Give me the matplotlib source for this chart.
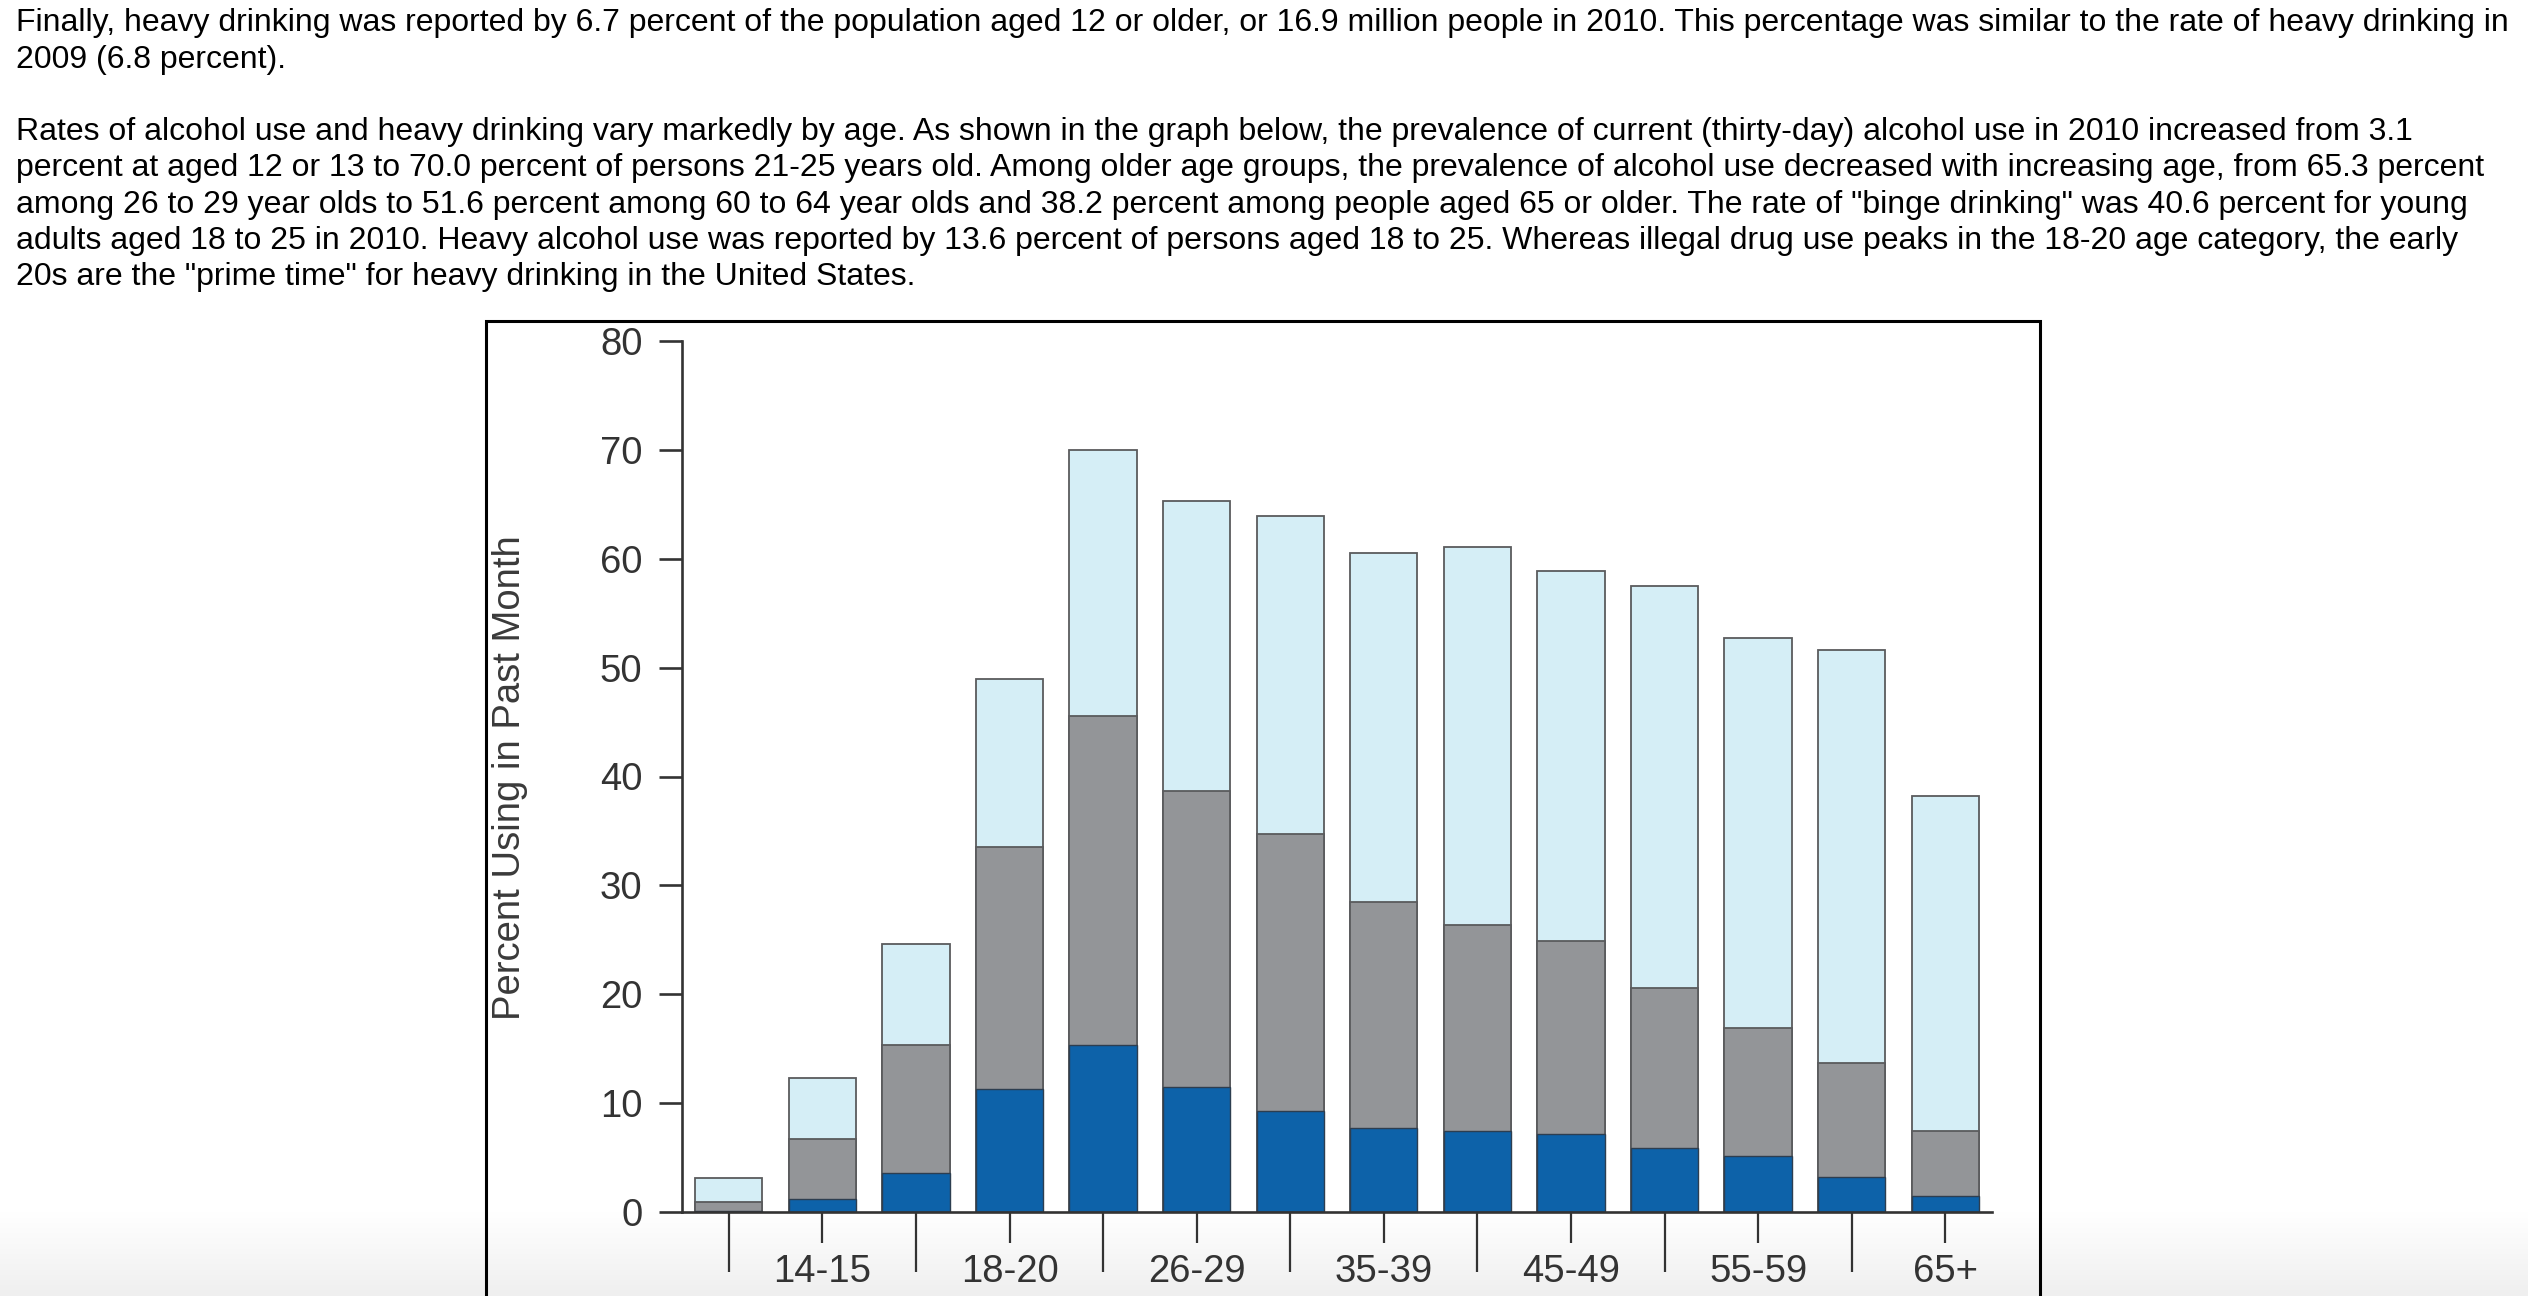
import numpy as np
import matplotlib
matplotlib.use("Agg")
from matplotlib import pyplot as plt
from matplotlib.patches import Rectangle
from matplotlib.colors import LinearSegmentedColormap

plt.rcParams["font.family"] = ["Liberation Sans", "DejaVu Sans"]

# Age groups and past-month use (percent)
ages = ["12-13", "14-15", "16-17", "18-20", "21-25", "26-29", "30-34",
        "35-39", "40-44", "45-49", "50-54", "55-59", "60-64", "65+"]
current_use = [3.1, 12.3, 24.6, 49.0, 70.0, 65.3, 63.9, 60.5, 61.1, 58.9, 57.5, 52.7, 51.6, 38.2]
binge_use = [0.9, 6.7, 15.3, 33.5, 45.6, 38.7, 34.7, 28.5, 26.4, 24.9, 20.6, 16.9, 13.7, 7.4]
heavy_use = [0.1, 1.2, 3.6, 11.3, 15.3, 11.5, 9.3, 7.7, 7.4, 7.2, 5.9, 5.1, 3.2, 1.5]
yticks = [0, 10, 20, 30, 40, 50, 60, 70, 80]

para_lines = [
    "Finally, heavy drinking was reported by 6.7 percent of the population aged 12 or older, or 16.9 million people in 2010. This percentage was similar to the rate of heavy drinking in",
    "2009 (6.8 percent).",
    "Rates of alcohol use and heavy drinking vary markedly by age. As shown in the graph below, the prevalence of current (thirty-day) alcohol use in 2010 increased from 3.1",
    "percent at aged 12 or 13 to 70.0 percent of persons 21-25 years old. Among older age groups, the prevalence of alcohol use decreased with increasing age, from 65.3 percent",
    "among 26 to 29 year olds to 51.6 percent among 60 to 64 year olds and 38.2 percent among people aged 65 or older. The rate of \"binge drinking\" was 40.6 percent for young",
    "adults aged 18 to 25 in 2010. Heavy alcohol use was reported by 13.6 percent of persons aged 18 to 25. Whereas illegal drug use peaks in the 18-20 age category, the early",
    "20s are the \"prime time\" for heavy drinking in the United States.",
]
line_baselines = [31.5, 67.8, 140, 176.3, 212.6, 248.9, 285.2]

W, H = 2528, 1296
fig = plt.figure(figsize=(W / 100, H / 100), dpi=100)
fig.patch.set_facecolor("white")

# light grey fade at the bottom of the page
bg = fig.add_axes([0, 0, 1, 84 / H], zorder=-5)
fade = LinearSegmentedColormap.from_list("fade", ["#efefef", "#ffffff"])
bg.imshow(np.linspace(0, 1, 100).reshape(-1, 1), cmap=fade, aspect="auto",
          origin="lower", extent=[0, 1, 0, 1])
bg.axis("off")

for line, yb in zip(para_lines, line_baselines):
    fig.text(16 / W, 1 - yb / H, line, fontsize=23, color="black",
             ha="left", va="baseline")

# frame around the graph
fig.patches.append(Rectangle((486 / W, -0.01), (2040 - 486) / W, 1.01 - 321 / H,
                             transform=fig.transFigure, fill=False,
                             edgecolor="black", linewidth=2.2))

ax = fig.add_axes([682 / W, (H - 1212) / H, (1992 - 682) / W, (1212 - 341) / H])
ax.patch.set_alpha(0)

x = np.arange(len(ages))
bw = 0.72
edge = "#5a5b5d"
ax.bar(x, current_use, width=bw, color="#d5eef6", edgecolor=edge, linewidth=1.3)
ax.bar(x, binge_use, width=bw, color="#939598", edgecolor=edge, linewidth=1.3)
ax.bar(x, heavy_use, width=bw, color="#0d62a9", edgecolor="#2d3e50", linewidth=1.0)

ax.set_xlim(-0.5, len(ages) - 0.5)
ax.set_ylim(0, 80)
for side in ["top", "right"]:
    ax.spines[side].set_visible(False)
for side in ["left", "bottom"]:
    ax.spines[side].set_color("#333333")
    ax.spines[side].set_linewidth(1.9)

ax.set_yticks(yticks)
ax.tick_params(axis="y", length=16.5, width=1.9, pad=12, labelsize=27.5,
               colors="#333333")

# labelled groups get short ticks, the others long ticks
ax.set_xticks(x[1::2])
ax.set_xticklabels(ages[1::2])
ax.set_xticks(x[0::2], minor=True)
ax.tick_params(axis="x", which="major", length=22, width=1.6, pad=8,
               labelsize=27.5, colors="#333333")
ax.tick_params(axis="x", which="minor", length=43, width=1.6, colors="#333333")

fig.text(510 / W, 1 - 778 / H, "Percent Using in Past Month", rotation=90,
         fontsize=27.5, color="#3a3a3a", ha="center", va="center")

fig.savefig("out.png", dpi=100)
